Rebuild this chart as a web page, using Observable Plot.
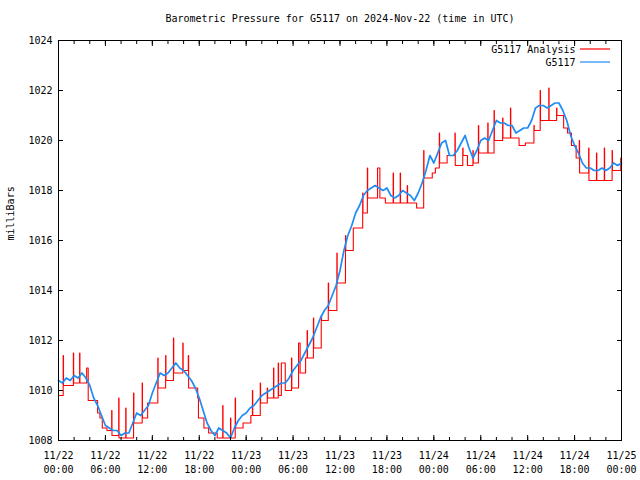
<!DOCTYPE html>
<html><head><meta charset="utf-8">
<script src="https://cdn.jsdelivr.net/npm/d3@7"></script>
<script src="https://cdn.jsdelivr.net/npm/@observablehq/plot@0.6"></script>
<style>body{margin:0;background:#fff}</style>
</head><body><div id="chart"></div>
<script>
const title = "Barometric Pressure for G5117 on 2024-Nov-22 (time in UTC)";
const yLabel = "milliBars";
const seriesNames = ["G5117 Analysis", "G5117"];
const seriesColors = ["#ff0000", "#1e8cf5"];
const startUTC = "2024-11-22T00:00:00Z";
const spanHours = 72;
const yDomain = [1008, 1024];
const yTicks = [1008, 1010, 1012, 1014, 1016, 1018, 1020, 1022, 1024];
const majorTickHours = 6;
const minorTickHours = 2;

// Observations (G5117), every 30 minutes from 11/22 00:00 UTC
const obsStepHours = 0.5;
const obsValues = [
1010.4,1010.3,1010.5,1010.4,1010.6,1010.5,1010.7,1010.5,1010.2,1009.7,
1009.4,1009.0,1008.6,1008.5,1008.4,1008.4,1008.2,1008.3,1008.3,1008.7,
1009.1,1009.0,1009.2,1009.4,1009.9,1010.3,1010.7,1010.6,1010.7,1010.9,
1011.1,1010.9,1010.8,1010.6,1010.4,1010.1,1009.7,1009.2,1008.7,1008.4,
1008.2,1008.5,1008.4,1008.3,1008.1,1008.5,1008.8,1009.0,1009.1,1009.3,
1009.4,1009.6,1009.8,1009.9,1010.0,1010.1,1010.2,1010.3,1010.3,1010.5,
1010.8,1011.0,1011.2,1011.5,1011.8,1012.1,1012.5,1012.9,1013.2,1013.4,
1013.8,1014.2,1014.8,1015.6,1016.2,1016.6,1017.1,1017.4,1017.8,1018.0,
1018.1,1018.2,1018.1,1018.0,1018.1,1017.8,1017.7,1017.8,1018.0,1017.9,
1017.8,1017.6,1017.9,1018.3,1018.8,1019.4,1019.1,1019.5,1019.9,1020.0,
1019.4,1019.4,1019.6,1019.9,1020.2,1019.7,1019.3,1019.6,1020.0,1020.1,
1020.0,1020.4,1020.8,1020.7,1020.7,1020.6,1020.6,1020.3,1020.4,1020.5,
1020.5,1020.8,1021.3,1021.4,1021.4,1021.3,1021.4,1021.5,1021.5,1021.2,
1020.8,1020.2,1019.8,1019.5,1019.1,1018.9,1018.9,1018.8,1018.8,1018.9,
1018.8,1018.9,1019.1,1019.0,1019.1];

// Analysis (G5117 Analysis): step changes, hours after 11/22 00:00 UTC
const analysisHours = [
0,0.6,0.64,1.9,1.94,2.7,2.74,3.6,3.8,5.0,
5.3,5.6,6.2,6.8,6.84,7.7,7.74,8.6,8.64,9.6,
9.64,10.7,10.74,11.4,12.7,12.74,13.7,13.74,14.7,14.74,
15.9,15.94,16.6,16.64,17.8,17.9,18.6,19.2,20.3,21.0,
21.04,22.0,22.04,22.6,22.64,23.6,24.6,24.8,24.84,25.8,
25.84,26.7,26.74,27.5,27.54,28.1,28.14,28.5,29.0,29.8,
29.84,30.7,30.9,31.6,31.8,31.84,32.6,32.64,33.6,33.64,
34.5,34.54,35.6,35.64,36.7,36.74,37.7,38.9,38.94,39.5,
39.54,40.8,41.1,41.8,42.8,42.84,43.7,43.74,44.6,44.64,
45.8,46.7,46.74,47.8,48.2,48.7,48.74,49.7,50.7,50.74,
51.7,51.74,52.3,53.0,53.04,53.7,53.74,54.9,54.94,55.7,
55.74,56.8,56.84,57.8,57.84,58.9,59.7,60.8,60.84,61.6,
61.64,62.7,62.74,63.7,63.74,64.6,65.1,65.6,66.2,66.6,
66.64,67.8,67.84,68.8,68.84,69.8,69.84,70.8,70.84,71.9,
72];
const analysisValues = [
1009.8,1011.4,1010.2,1011.5,1010.3,1011.5,1010.3,1010.9,1009.6,1009.1,
1008.9,1008.5,1008.4,1009.2,1008.2,1009.7,1008.1,1009.3,1008.1,1009.9,
1008.7,1010.3,1008.9,1009.5,1011.3,1010.1,1011.4,1010.4,1012.1,1010.7,
1011.9,1010.8,1011.4,1010.1,1009.7,1008.9,1008.5,1008.3,1008.1,1009.4,
1008.1,1008.9,1008.1,1009.7,1008.5,1008.7,1009.0,1010.0,1009.0,1010.3,
1009.5,1010.1,1009.7,1010.9,1009.7,1011.1,1009.8,1011.1,1010.0,1011.3,
1010.1,1011.9,1010.7,1011.3,1012.4,1011.3,1012.9,1011.7,1013.0,1012.8,
1014.3,1013.2,1015.5,1014.3,1016.2,1015.6,1016.5,1017.9,1017.1,1018.9,
1017.7,1018.9,1017.7,1017.5,1018.7,1017.5,1018.7,1017.5,1018.2,1017.5,
1017.3,1019.6,1018.5,1018.7,1018.9,1020.3,1019.1,1019.4,1020.3,1019.0,
1019.7,1019.4,1019.0,1019.6,1019.1,1020.6,1019.5,1020.7,1019.5,1021.2,
1020.0,1020.9,1020.1,1021.3,1020.1,1019.8,1019.9,1020.6,1020.4,1022.0,
1020.8,1022.1,1020.8,1021.3,1021.0,1020.5,1020.3,1019.8,1019.3,1020.0,
1018.7,1019.7,1018.4,1019.5,1018.4,1019.7,1018.4,1019.6,1018.8,1019.3,
1018.8];

const t0 = new Date(startUTC).getTime();
const toDate = h => new Date(t0 + h * 3600e3);
const obs = obsValues.map((v, i) => ({t: toDate(i * obsStepHours), v}));
const ana = analysisHours.map((h, i) => ({t: toDate(h), v: analysisValues[i]}));
const fmt = d3.utcFormat("%m/%d\n%H:%M");
const blank = () => "";
const FONT = "'DejaVu Sans Mono', monospace";

const plot = Plot.plot({
  width: 640, height: 480,
  marginLeft: 58, marginRight: 19, marginTop: 40, marginBottom: 40,
  style: {fontFamily: FONT, fontSize: "10px", background: "#fff", color: "#000"},
  x: {type: "utc", domain: [toDate(0), toDate(spanHours)], label: null},
  y: {domain: yDomain, label: null},
  marks: [
    Plot.lineY(ana, {x: "t", y: "v", curve: "step-after", stroke: seriesColors[0], strokeWidth: 1.1}),
    Plot.lineY(obs, {x: "t", y: "v", stroke: seriesColors[1], strokeWidth: 1.7}),
    Plot.frame({stroke: "#000"}),
    Plot.axisX({anchor: "bottom", ticks: d3.utcHour.every(minorTickHours), tickSize: -3, tickFormat: blank, label: null}),
    Plot.axisX({anchor: "top", ticks: d3.utcHour.every(minorTickHours), tickSize: -3, tickFormat: blank, label: null}),
    Plot.axisX({anchor: "bottom", ticks: d3.utcHour.every(majorTickHours), tickSize: -5, tickPadding: 14, tickFormat: fmt, lineHeight: 1.35, label: null}),
    Plot.axisX({anchor: "top", ticks: d3.utcHour.every(majorTickHours), tickSize: -5, tickFormat: blank, label: null}),
    Plot.axisY({anchor: "left", ticks: yTicks, tickSize: -5, tickPadding: 11, tickFormat: d => String(d), label: null}),
    Plot.axisY({anchor: "right", ticks: yTicks, tickSize: -5, tickFormat: blank, label: null}),
    Plot.text([title], {frameAnchor: "top", dy: -26}),
    Plot.text([yLabel], {frameAnchor: "left", dx: -48, rotate: -90}),
    Plot.text([seriesNames[0]], {frameAnchor: "top-right", dx: -46, dy: 5, textAnchor: "end"}),
    Plot.text([seriesNames[1]], {frameAnchor: "top-right", dx: -46, dy: 18, textAnchor: "end"})
  ]
});
// legend line samples
const svg = d3.select(plot);
[0, 1].forEach(i => {
  svg.append("line").attr("x1", 580).attr("x2", 610)
    .attr("y1", 49 + 13 * i).attr("y2", 49 + 13 * i)
    .attr("stroke", seriesColors[i]).attr("stroke-width", 1.2);
});
document.getElementById("chart").appendChild(plot);
</script>
</body></html>
